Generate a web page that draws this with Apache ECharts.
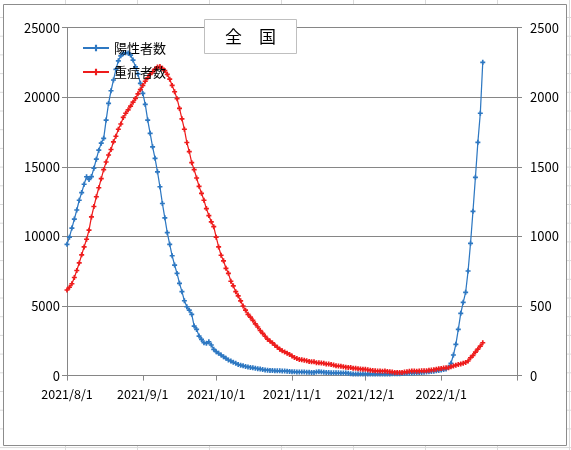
<!DOCTYPE html>
<html>
<head>
<meta charset="utf-8">
<script src="https://cdn.jsdelivr.net/npm/echarts@6/dist/echarts.min.js"></script>
<style>
  html, body { margin: 0; padding: 0; background: #fff; }
  #chart { width: 571px; height: 450px; }
</style>
</head>
<body>
<div id="chart"></div>
<script>
// first day of both series, one value per day after that
const startDate = '2021/8/1'
const xTickLabels = ['2021/8/1', '2021/9/1', '2021/10/1', '2021/11/1', '2021/12/1', '2022/1/1']
const xAxisEnd = '2022/2/1'

// 陽性者数 (left axis)
const positives = [
  9430, 9950, 10600, 11250, 11900, 12600, 13150, 13750, 14290, 14100,
  14300, 14900, 15550, 16200, 16700, 17050, 18360, 19560, 20470, 21240,
  22000, 22620, 22980, 23150, 23200, 23180, 23030, 22670, 22190, 21680,
  21000, 20280, 19490, 18360, 17410, 16440, 15610, 14640, 13570, 12370,
  11340, 10270, 9430, 8610, 7940, 7340, 6630, 6030, 5380, 4950,
  4700, 4400, 3560, 3320, 2840, 2600, 2360, 2320, 2430, 2200,
  1890, 1720, 1600, 1480, 1360, 1240, 1120, 1050, 955, 885,
  800, 750, 700, 660, 625, 590, 560, 530, 500, 470,
  430, 405, 390, 375, 365, 355, 345, 340, 335, 330,
  320, 300, 285, 270, 262, 258, 255, 250, 240, 232,
  225, 230, 262, 280, 255, 235, 225, 215, 205, 200,
  205, 200, 195, 190, 180, 165, 140, 120, 112, 110,
  108, 110, 112, 115, 112, 110, 108, 110, 112, 115,
  118, 120, 122, 125, 130, 135, 140, 148, 155, 165,
  175, 185, 195, 205, 215, 230, 245, 260, 280, 300,
  320, 345, 370, 400, 430, 480, 600, 884, 1480, 2249,
  3327, 4477, 5267, 5986, 7517, 9507, 11807, 14250, 16765, 18850,
  22514
]

// 重症者数 (right axis)
const severe = [
  615, 635, 660, 705, 755, 810, 868, 925, 980, 1045,
  1140, 1215, 1285, 1350, 1415, 1480, 1535, 1585, 1625, 1680,
  1720, 1770, 1808, 1855, 1885, 1910, 1937, 1965, 1992, 2025,
  2055, 2085, 2115, 2140, 2165, 2183, 2202, 2218, 2221, 2208,
  2192, 2165, 2130, 2085, 2040, 1990, 1920, 1845, 1770, 1675,
  1610, 1530, 1480, 1420, 1360, 1310, 1260, 1200, 1150, 1105,
  1070, 995, 925, 865, 825, 771, 735, 678, 645, 603,
  573, 537, 500, 470, 440, 420, 397, 372, 349, 324,
  304, 283, 262, 248, 235, 218, 204, 190, 178, 170,
  161, 152, 141, 130, 123, 116, 113, 111, 107, 102,
  100, 99, 93, 92, 90, 88, 84, 83, 80, 76,
  70, 69, 67, 64, 60, 59, 58, 52, 52, 50,
  48, 45, 45, 42, 39, 36, 34, 33, 33, 32,
  33, 30, 28, 25, 23, 23, 22, 23, 25, 27,
  31, 33, 33, 32, 33, 34, 34, 35, 38, 40,
  42, 46, 50, 51, 54, 56, 57, 63, 69, 75,
  80, 84, 89, 95, 105, 128, 145, 169, 190, 212,
  236
]

const seriesNames = ['陽性者数', '重症者数']
const chartTitle = '全\u3000国'

const DAY = 86400000
function parseDate(s) {
  const [y, m, d] = s.split('/').map(Number)
  return Date.UTC(y, m - 1, d)
}
const start = parseDate(startDate)
const toPairs = (arr) => arr.map((v, i) => [start + i * DAY, v])

const plusMark = 'path://M2,0H4V2H6V4H4V6H2V4H0V2H2Z'
const gridColor = '#868686'
const font = '"Noto Sans CJK JP", sans-serif'
const plainNumber = (v) => String(v)

// faint spreadsheet cells behind the chart object
const sheetLines = []
for (let x = 65.5; x < 571; x += 72) {
  sheetLines.push({ type: 'line', shape: { x1: x, y1: 0, x2: x, y2: 450 }, style: { stroke: '#dadada', lineWidth: 1 }, z: -10 })
}
for (let y = 17.5; y < 450; y += 18.7) {
  sheetLines.push({ type: 'line', shape: { x1: 0, y1: y, x2: 571, y2: y }, style: { stroke: '#dadada', lineWidth: 1 }, z: -10 })
}

const chart = echarts.init(document.getElementById('chart'))
chart.setOption({
  animation: false,
  backgroundColor: '#fff',
  graphic: [
    ...sheetLines,
    {
      type: 'rect',
      shape: { x: 3.5, y: 4.5, width: 563, height: 441 },
      style: { fill: '#fff', stroke: '#8c8c8c', lineWidth: 1 },
      z: -5
    }
  ],
  title: {
    text: chartTitle,
    left: 204,
    top: 19,
    padding: [9, 21],
    borderWidth: 1,
    borderColor: '#bfbfbf',
    backgroundColor: '#fff',
    textStyle: { fontFamily: font, fontSize: 17, fontWeight: 'normal', color: '#000', lineHeight: 17 },
    z: 10
  },
  legend: {
    orient: 'vertical',
    left: 77,
    top: 36,
    itemWidth: 26,
    itemHeight: 8,
    itemGap: 10,
    data: seriesNames,
    textStyle: { fontFamily: font, fontSize: 13, color: '#000', lineHeight: 14 }
  },
  grid: { left: 67, right: 54, top: 27.7, bottom: 74.4 },
  xAxis: {
    type: 'value',
    min: start,
    max: parseDate(xAxisEnd),
    axisLine: { lineStyle: { color: gridColor } },
    axisTick: {
      show: true,
      length: 5,
      lineStyle: { color: gridColor },
      customValues: [...xTickLabels, xAxisEnd].map(parseDate)
    },
    axisLabel: {
      fontFamily: font,
      fontSize: 12.5,
      color: '#000',
      margin: 12,
      customValues: xTickLabels.map(parseDate),
      formatter: (val) => {
        const d = new Date(val)
        return d.getUTCFullYear() + '/' + (d.getUTCMonth() + 1) + '/' + d.getUTCDate()
      }
    },
    splitLine: { show: false }
  },
  yAxis: [
    {
      type: 'value',
      min: 0,
      max: 25000,
      interval: 5000,
      axisLine: { show: true, lineStyle: { color: gridColor } },
      axisTick: { show: true, length: 5, lineStyle: { color: gridColor } },
      axisLabel: { fontFamily: font, fontSize: 13, color: '#000', margin: 7, formatter: plainNumber },
      splitLine: { lineStyle: { color: gridColor } }
    },
    {
      type: 'value',
      min: 0,
      max: 2500,
      interval: 500,
      position: 'right',
      axisLine: { show: true, lineStyle: { color: gridColor } },
      axisTick: { show: true, length: 5, lineStyle: { color: gridColor } },
      axisLabel: { fontFamily: font, fontSize: 13, color: '#000', margin: 13, formatter: plainNumber },
      splitLine: { show: false }
    }
  ],
  series: [
    {
      name: seriesNames[0],
      type: 'line',
      yAxisIndex: 0,
      data: toPairs(positives),
      symbol: plusMark,
      symbolSize: 5,
      lineStyle: { color: '#2e78c2', width: 1.25 },
      itemStyle: { color: '#2e78c2' }
    },
    {
      name: seriesNames[1],
      type: 'line',
      yAxisIndex: 1,
      data: toPairs(severe),
      symbol: plusMark,
      symbolSize: 5,
      lineStyle: { color: '#ee1c1c', width: 1.25 },
      itemStyle: { color: '#ee1c1c' }
    }
  ]
})
</script>
</body>
</html>
